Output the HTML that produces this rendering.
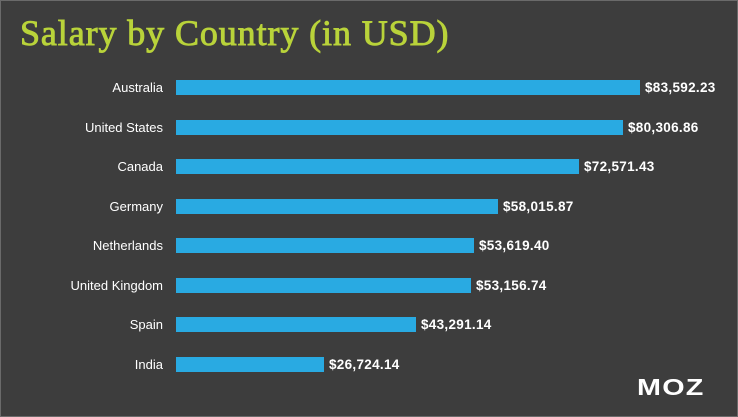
<!DOCTYPE html>
<html><head><style>
body{margin:0;background:#3d3d3d;}
#c{position:relative;width:736px;height:415px;background:#3d3d3d;border:1px solid #6a6a6a;overflow:hidden;font-family:"Liberation Sans",sans-serif;}
h1{position:absolute;left:19px;top:11px;margin:0;font-family:"Liberation Serif",serif;font-weight:normal;font-size:36px;color:#b9d33a;letter-spacing:0.9px;-webkit-text-stroke:0.9px #b9d33a;}
.l{position:absolute;right:574px;color:#fff;font-size:13px;text-align:right;white-space:nowrap;}
.b{position:absolute;left:175px;height:15px;background:#29aae2;}
.v{position:absolute;color:#fff;font-size:13.5px;font-weight:bold;letter-spacing:0.3px;}
.m{position:absolute;left:636px;top:373px;color:#fff;font-size:23px;font-weight:900;letter-spacing:1px;transform:scaleX(1.25);transform-origin:left;}
</style></head><body><div id="c">
<h1>Salary by Country (in USD)</h1>
<div class="l" style="top:79px">Australia</div><div class="b" style="top:79px;width:464px"></div><div class="v" style="top:79px;left:644px">$83,592.23</div>
<div class="l" style="top:119px">United States</div><div class="b" style="top:119px;width:447px"></div><div class="v" style="top:119px;left:627px">$80,306.86</div>
<div class="l" style="top:158px">Canada</div><div class="b" style="top:158px;width:403px"></div><div class="v" style="top:158px;left:583px">$72,571.43</div>
<div class="l" style="top:198px">Germany</div><div class="b" style="top:198px;width:322px"></div><div class="v" style="top:198px;left:502px">$58,015.87</div>
<div class="l" style="top:237px">Netherlands</div><div class="b" style="top:237px;width:298px"></div><div class="v" style="top:237px;left:478px">$53,619.40</div>
<div class="l" style="top:277px">United Kingdom</div><div class="b" style="top:277px;width:295px"></div><div class="v" style="top:277px;left:475px">$53,156.74</div>
<div class="l" style="top:316px">Spain</div><div class="b" style="top:316px;width:240px"></div><div class="v" style="top:316px;left:420px">$43,291.14</div>
<div class="l" style="top:356px">India</div><div class="b" style="top:356px;width:148px"></div><div class="v" style="top:356px;left:328px">$26,724.14</div>
<div class="m">MOZ</div>
</div></body></html>
